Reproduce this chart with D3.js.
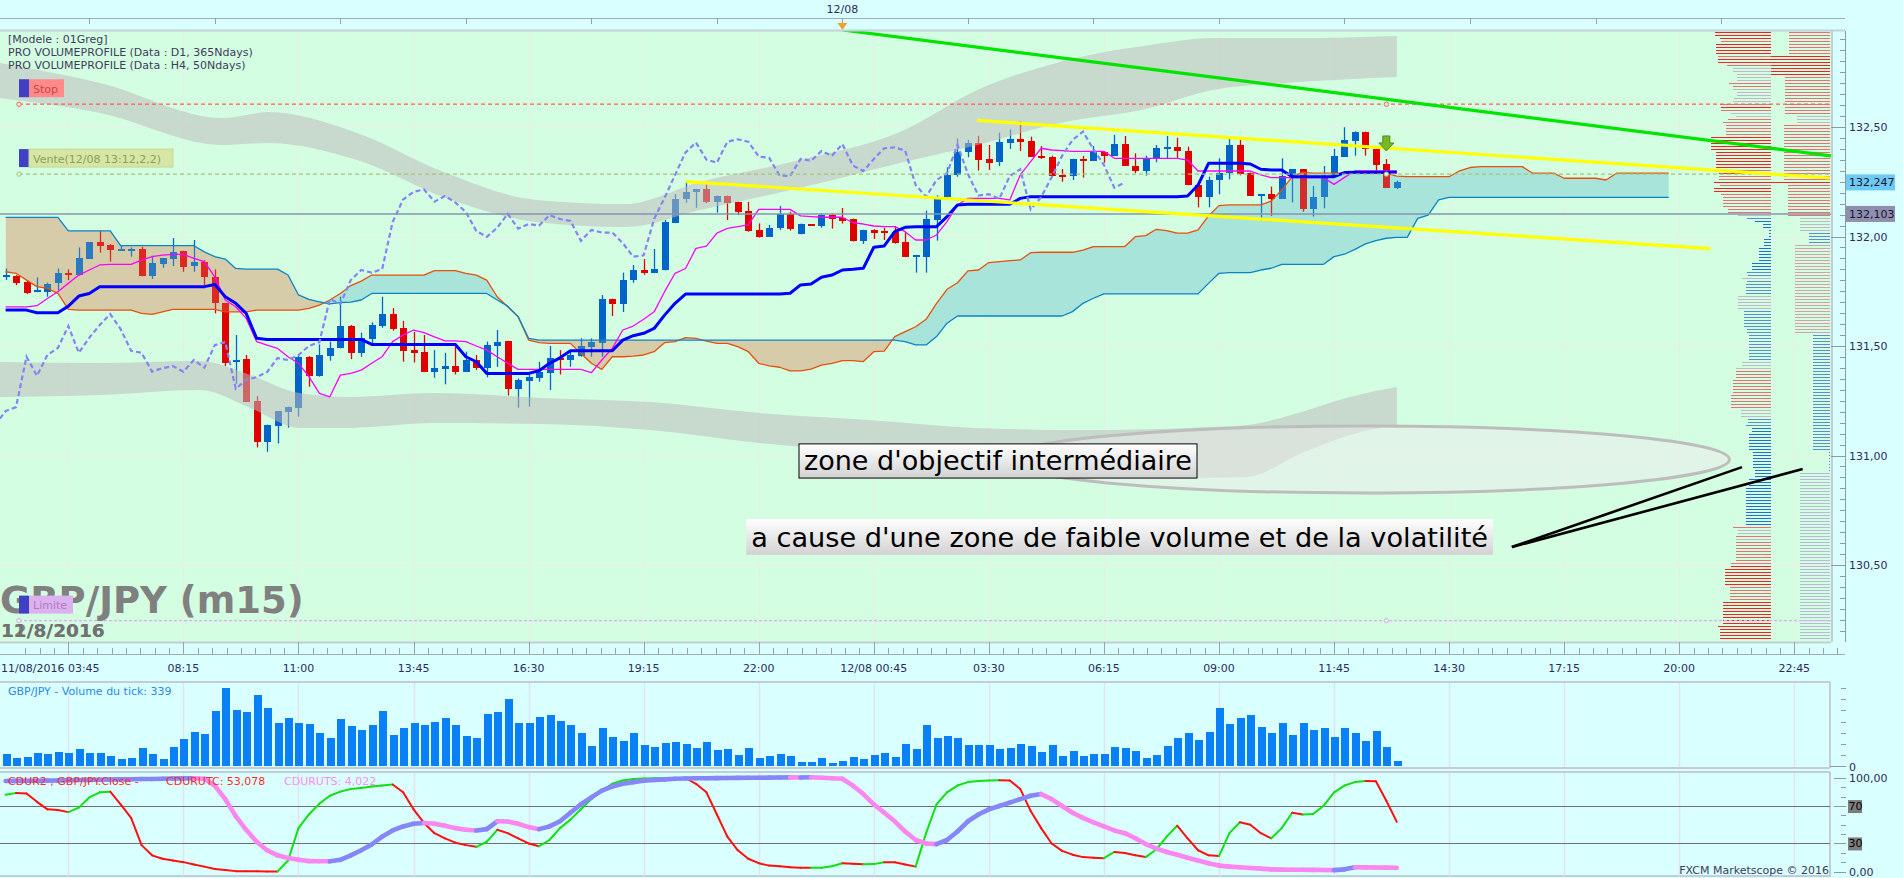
<!DOCTYPE html>
<html>
<head>
<meta charset="utf-8">
<script src="https://cdn.jsdelivr.net/npm/d3@7"></script>
<style>
  body { margin: 0; background: #d9ffff; overflow: hidden; }
  svg text { font-family: "DejaVu Sans", sans-serif; }
</style>
</head>
<body>
<svg id="chart" width="1903" height="878"></svg>
<script>
// GBP/JPY m15, bougies du 11/08 04:00 au 12/08 13:15
const opens = [
  131.816,131.819,131.792,131.749,131.748,131.786,131.830,131.824,131.898,131.975,
  131.961,131.935,131.937,131.941,131.819,131.874,131.898,131.934,131.867,131.883,
  131.813,131.695,131.428,131.439,131.249,131.063,131.136,131.200,131.215,131.450,
  131.363,131.454,131.492,131.593,131.469,131.532,131.593,131.646,131.582,131.481,
  131.472,131.383,131.396,131.408,131.383,131.436,131.401,131.501,131.523,131.305,
  131.341,131.355,131.378,131.445,131.436,131.456,131.497,131.515,131.714,131.692,
  131.801,131.847,131.835,131.847,132.063,132.171,132.204,132.217,132.159,132.185,
  132.158,132.116,132.030,132.000,132.040,132.103,132.012,132.056,132.048,132.098,
  132.086,132.080,131.980,132.030,132.021,132.021,131.975,131.911,131.908,132.075,
  132.179,132.281,132.386,132.429,132.354,132.340,132.429,132.445,132.438,132.368,
  132.363,132.279,132.278,132.349,132.346,132.387,132.369,132.422,132.322,132.301,
  132.354,132.401,132.409,132.390,132.235,132.182,132.258,132.289,132.418,132.289,
  132.188,132.194,132.173,132.276,132.307,132.124,132.182,132.270,132.365,132.438,
  132.477,132.400,132.331,132.223
];
const highs = [
  131.854,131.824,131.801,131.813,131.789,131.854,131.850,131.950,131.975,132.026,
  131.965,131.961,131.950,131.953,131.912,131.902,131.993,131.935,131.984,131.892,
  131.850,131.696,131.550,131.459,131.271,131.141,131.204,131.223,131.459,131.454,
  131.507,131.520,131.725,131.596,131.561,131.608,131.725,131.673,131.615,131.564,
  131.550,131.481,131.469,131.497,131.474,131.459,131.520,131.573,131.524,131.352,
  131.375,131.428,131.500,131.481,131.481,131.535,131.535,131.733,131.716,131.835,
  131.870,131.897,131.943,132.075,132.194,132.250,132.217,132.238,132.187,132.187,
  132.159,132.158,132.060,132.053,132.139,132.113,132.059,132.057,132.106,132.103,
  132.130,132.082,132.031,132.033,132.040,132.048,132.021,131.916,132.118,132.188,
  132.316,132.448,132.441,132.460,132.418,132.474,132.489,132.526,132.456,132.413,
  132.369,132.308,132.355,132.368,132.413,132.389,132.464,132.459,132.380,132.369,
  132.418,132.459,132.451,132.410,132.237,132.273,132.357,132.445,132.441,132.292,
  132.194,132.228,132.357,132.308,132.308,132.231,132.322,132.400,132.499,132.480,
  132.479,132.403,132.354,132.255
];
const lows = [
  131.801,131.778,131.737,131.746,131.725,131.755,131.801,131.821,131.897,131.926,
  131.885,131.934,131.908,131.818,131.806,131.857,131.865,131.839,131.839,131.763,
  131.649,131.408,131.326,131.244,131.037,131.017,131.055,131.127,131.177,131.314,
  131.360,131.433,131.489,131.440,131.451,131.512,131.583,131.570,131.428,131.425,
  131.381,131.355,131.325,131.370,131.381,131.390,131.357,131.405,131.274,131.218,
  131.223,131.337,131.299,131.370,131.405,131.451,131.451,131.451,131.637,131.655,
  131.789,131.825,131.833,131.845,132.061,132.154,132.131,132.152,132.109,132.075,
  132.098,132.022,131.995,131.998,132.030,132.027,132.010,132.048,132.040,132.036,
  132.059,131.977,131.966,131.989,131.984,131.967,131.907,131.835,131.835,131.981,
  132.177,132.273,132.362,132.301,132.304,132.322,132.400,132.390,132.363,132.354,
  132.275,132.250,132.258,132.269,132.345,132.337,132.368,132.322,132.289,132.278,
  132.339,132.357,132.357,132.234,132.133,132.133,132.193,132.261,132.279,132.185,
  132.085,132.094,132.171,132.156,132.113,132.091,132.129,132.269,132.363,132.369,
  132.369,132.296,132.222,132.217
];
const closes = [
  131.819,131.789,131.743,131.752,131.783,131.832,131.825,131.900,131.975,131.956,
  131.938,131.941,131.940,131.819,131.877,131.900,131.927,131.862,131.882,131.813,
  131.695,131.424,131.436,131.246,131.063,131.139,131.203,131.221,131.451,131.364,
  131.459,131.491,131.591,131.469,131.538,131.596,131.646,131.577,131.478,131.469,
  131.383,131.399,131.408,131.383,131.436,131.401,131.504,131.518,131.305,131.345,
  131.358,131.381,131.445,131.436,131.459,131.500,131.518,131.714,131.692,131.801,
  131.847,131.835,131.851,132.066,132.169,132.204,132.215,132.159,132.185,132.155,
  132.112,132.025,131.998,132.040,132.103,132.036,132.057,132.050,132.098,132.080,
  132.071,131.980,132.030,132.018,132.018,131.970,131.908,131.914,132.080,132.177,
  132.281,132.384,132.429,132.351,132.337,132.433,132.444,132.433,132.365,132.359,
  132.278,132.276,132.354,132.346,132.390,132.369,132.422,132.324,132.299,132.354,
  132.403,132.407,132.392,132.235,132.182,132.258,132.289,132.418,132.285,132.187,
  132.193,132.173,132.276,132.307,132.124,132.180,132.270,132.368,132.441,132.479,
  132.398,132.327,132.223,132.247
];
const volumes = [
  840,576,648,912,840,984,912,1200,912,912,
  696,504,576,1272,840,480,1344,1920,2424,2280,
  3936,5640,4008,3864,5088,4152,3072,3432,3072,3000,
  2352,1992,3360,2856,2568,2928,3936,2208,2712,3072,
  2928,3144,3432,2928,2136,1992,3720,3864,4800,3072,
  3072,3504,3648,3216,2928,2352,1416,2712,2064,1776,
  2352,1488,1344,1632,1704,1560,1272,1704,1128,1200,
  768,1272,552,696,840,696,264,264,552,192,
  336,624,480,768,912,624,1560,1200,2928,1992,
  2136,1992,1488,1488,1488,1200,1272,1560,1416,984,
  1488,696,1056,696,840,840,1344,1272,1056,552,
  768,1416,1992,2352,1848,2424,4152,3000,3432,3648,
  2784,2352,3072,2208,3072,2568,2712,2064,2712,2352,
  1776,2496,1344,339
];

// Ichimoku
const tenkan = [
  131.679,131.679,131.679,131.684,131.717,131.748,131.786,131.824,131.847,131.870,
  131.873,131.873,131.873,131.892,131.908,131.915,131.918,131.918,131.900,131.885,
  131.816,131.710,131.679,131.626,131.520,131.504,131.489,131.451,131.421,131.360,
  131.284,131.268,131.367,131.375,131.390,131.421,131.451,131.520,131.550,131.573,
  131.561,131.542,131.523,131.523,131.520,131.500,131.481,131.451,131.421,131.393,
  131.393,131.393,131.393,131.393,131.393,131.393,131.378,131.436,131.489,131.573,
  131.591,131.622,131.656,131.748,131.832,131.854,131.946,131.956,132.015,132.037,
  132.045,132.053,132.124,132.124,132.124,132.124,132.094,132.091,132.088,132.088,
  132.088,132.063,132.057,132.048,132.045,132.045,132.022,131.984,131.984,132.007,
  132.068,132.144,132.174,132.174,132.174,132.174,132.167,132.281,132.342,132.403,
  132.395,132.392,132.389,132.389,132.389,132.389,132.357,132.357,132.357,132.357,
  132.357,132.357,132.357,132.349,132.299,132.299,132.299,132.299,132.299,132.299,
  132.281,132.269,132.269,132.269,132.269,132.269,132.269,132.238,132.270,132.299,
  132.299,132.299,132.299,132.299
];
const kijun = [
  131.664,131.664,131.664,131.652,131.652,131.652,131.682,131.728,131.740,131.771,
  131.771,131.771,131.771,131.771,131.771,131.771,131.771,131.771,131.771,131.771,
  131.781,131.725,131.695,131.649,131.535,131.530,131.530,131.530,131.530,131.530,
  131.530,131.530,131.530,131.530,131.530,131.507,131.507,131.507,131.507,131.507,
  131.507,131.507,131.507,131.507,131.451,131.428,131.375,131.375,131.375,131.375,
  131.375,131.387,131.421,131.446,131.478,131.478,131.478,131.478,131.478,131.527,
  131.547,131.558,131.580,131.641,131.695,131.737,131.737,131.737,131.738,131.738,
  131.738,131.738,131.738,131.738,131.738,131.741,131.779,131.783,131.814,131.824,
  131.847,131.850,131.855,131.951,131.957,132.022,132.042,132.045,132.045,132.045,
  132.091,132.144,132.147,132.147,132.147,132.147,132.147,132.174,132.182,132.182,
  132.182,132.182,132.182,132.182,132.182,132.182,132.182,132.182,132.182,132.182,
  132.182,132.182,132.182,132.185,132.235,132.334,132.334,132.334,132.334,132.331,
  132.307,132.304,132.304,132.273,132.273,132.273,132.273,132.273,132.292,132.293,
  132.293,132.293,132.293,132.293
];
const spanA = [
  131.839,131.832,131.801,131.771,131.763,131.740,131.667,131.664,131.664,131.664,
  131.664,131.664,131.664,131.649,131.644,131.656,131.667,131.667,131.667,131.667,
  131.667,131.656,131.656,131.656,131.664,131.664,131.664,131.664,131.664,131.672,
  131.687,131.710,131.740,131.776,131.796,131.824,131.824,131.824,131.824,131.824,
  131.824,131.844,131.844,131.844,131.832,131.824,131.801,131.725,131.679,131.634,
  131.527,131.515,131.512,131.512,131.512,131.466,131.421,131.393,131.451,131.451,
  131.454,131.459,131.474,131.515,131.520,131.538,131.535,131.522,131.512,131.512,
  131.497,131.474,131.421,131.409,131.403,131.386,131.386,131.394,131.413,131.421,
  131.433,131.433,131.429,131.474,131.477,131.543,131.566,131.588,131.622,131.695,
  131.759,131.789,131.843,131.847,131.881,131.885,131.890,131.893,131.926,131.928,
  131.928,131.928,131.928,131.938,131.954,131.954,131.954,131.954,131.999,132.004,
  132.033,132.027,132.015,132.015,132.030,132.094,132.141,132.144,132.144,132.144,
  132.144,132.162,132.212,132.273,132.293,132.289,132.289,132.289,132.289,132.289,
  132.289,132.289,132.289,132.276,132.273,132.273,132.273,132.273,132.273,132.300,
  132.315,132.319,132.319,132.319,132.319,132.319,132.289,132.289,132.289,132.266,
  132.266,132.266,132.266,132.258,132.289,132.289,132.289,132.289,132.289,132.289
];
const spanB = [
  132.087,132.087,132.087,132.087,132.087,132.087,132.026,132.026,132.026,132.026,
  132.026,131.958,131.958,131.958,131.958,131.958,131.958,131.958,131.958,131.930,
  131.908,131.897,131.854,131.851,131.851,131.851,131.851,131.824,131.733,131.713,
  131.702,131.692,131.698,131.700,131.710,131.740,131.740,131.740,131.740,131.740,
  131.740,131.740,131.740,131.740,131.740,131.740,131.740,131.710,131.682,131.634,
  131.535,131.527,131.527,131.527,131.527,131.527,131.527,131.527,131.527,131.527,
  131.527,131.527,131.527,131.527,131.527,131.527,131.527,131.527,131.527,131.527,
  131.527,131.527,131.527,131.527,131.527,131.527,131.527,131.527,131.527,131.527,
  131.527,131.527,131.527,131.527,131.527,131.527,131.520,131.505,131.505,131.543,
  131.604,131.637,131.637,131.637,131.637,131.637,131.637,131.637,131.637,131.637,
  131.637,131.637,131.657,131.695,131.718,131.738,131.738,131.738,131.738,131.738,
  131.738,131.738,131.738,131.738,131.738,131.786,131.832,131.835,131.835,131.835,
  131.847,131.855,131.873,131.873,131.873,131.873,131.873,131.908,131.919,131.941,
  131.966,131.981,131.992,131.996,131.996,132.083,132.098,132.167,132.179,132.179,
  132.179,132.179,132.179,132.179,132.179,132.179,132.179,132.179,132.179,132.179,
  132.179,132.179,132.179,132.179,132.179,132.179,132.179,132.179,132.179,132.179
];

// Bandes grises (indice de bougie, haut, bas)
const bandUpBars = [-0.54,9.02,20.78,25.08,33.6,42.1,50.7,59.2,66.4,75.9,85.5,92.9,100.8,109.4,115.4,123.7,133.0];
const bandUpTop  = [132.792,132.701,132.541,132.568,132.473,132.290,132.167,132.148,132.249,132.349,132.477,132.669,132.797,132.874,132.906,132.906,132.916];
const bandUpBot  = [132.632,132.564,132.418,132.427,132.349,132.176,132.066,132.043,132.121,132.221,132.336,132.418,132.518,132.587,132.669,132.705,132.728];
const bandLoBars = [-0.54,9.02,18.6,23.4,28.1,32.9,40.9,51.3,61.6,72.0,82.4,92.8,103.1,113.2,118.7,123.9,128.5,133.0];
const bandLoTop  = [131.427,131.422,131.432,131.368,131.285,131.267,131.285,131.263,131.244,131.194,131.162,131.126,131.116,131.126,131.139,131.199,131.267,131.313];
const bandLoBot  = [131.267,131.276,131.299,131.217,131.126,131.126,131.148,131.144,131.116,131.057,131.016,130.970,130.934,130.897,130.902,131.011,131.094,131.139];

// Oscillateur CDUR2
const cdurUTC = [
  82.1,83.9,83.5,74.5,66.5,65.7,63.5,68.3,79.2,84.7,
  85.4,71.9,57.3,28.2,17.3,13.6,11.8,10.0,7.4,5.2,
  2.7,1.6,0.4,0.3,0.2,0.1,0.1,11.8,46.4,61.0,
  72.6,81.0,85.4,88.3,89.4,90.9,91.9,93.0,84.7,66.5,
  51.9,41.0,35.5,30.8,28.2,26.4,31.8,44.6,41.0,35.5,
  30.0,27.1,33.7,46.4,55.5,66.5,77.4,86.5,93.8,97.4,
  99.0,99.5,99.8,100.0,100.0,100.0,93.8,84.7,61.0,37.3,
  22.7,13.6,8.9,6.3,5.6,4.5,4.1,4.0,4.1,5.6,
  8.9,8.2,7.8,7.9,10.0,9.8,7.4,5.2,41.0,71.9,
  84.7,91.9,95.6,96.7,97.4,97.5,97.4,88.3,64.6,46.4,
  30.0,22.0,18.0,15.4,14.7,14.3,20.9,19.8,17.3,15.4,
  23.5,37.3,49.0,35.5,22.7,17.3,16.5,41.0,52.6,50.1,
  41.0,35.5,46.4,62.8,61.0,61.5,70.1,84.7,91.9,95.6,
  96.7,96.6,75.6,53.078
];
const cdurUTS = [
  96.8,96.9,97.0,97.1,97.2,97.4,97.6,97.8,98.0,98.2,
  98.4,98.5,98.7,98.9,99.0,99.2,99.4,99.6,99.8,99.2,
  91.9,77.4,59.2,44.6,31.8,22.7,17.3,14.4,12.5,11.1,
  11.0,10.9,12.5,17.3,22.7,28.9,37.3,43.9,48.2,51.1,
  51.9,51.1,49.0,46.4,44.6,43.9,45.3,53.7,53.5,51.1,
  47.5,45.3,48.2,53.7,62.8,71.9,79.2,86.5,90.9,93.8,
  95.6,97.0,97.8,98.5,99.2,99.5,99.7,99.8,99.9,100.0,
  100.1,100.2,100.3,100.4,100.5,100.7,100.6,100.8,100.3,99.8,
  99.2,91.9,82.8,71.9,62.8,53.7,42.8,33.7,30.0,29.3,
  33.7,42.8,53.7,61.0,66.5,70.1,73.7,77.4,81.0,82.8,
  77.4,70.1,62.8,57.3,52.6,48.2,43.9,41.0,35.5,29.3,
  24.6,20.9,18.0,14.7,11.8,8.9,6.3,5.2,4.5,3.8,
  3.1,2.3,2.0,1.9,1.8,1.7,1.6,1.5,2.3,4.5,
  4.4,4.3,4.1,4.022
];

// Profils de volume: [volume, nombre de niveaux, teinte]
const profileD1Runs = [
  [168,2,"R"],[153,1,"R"],[150,1,"r"],[165,4,"R"],[158,1,"r"],[160,1,"R"],[158,1,"R"],[133,1,"r"],
  [115,1,"g"],[113,1,"g"],[103,2,"g"],[101,1,"g"],[127,1,"r"],[115,1,"r"],[115,1,"g"],[103,2,"g"],
  [110,1,"g"],[115,1,"g"],[153,1,"r"],[150,1,"R"],[150,1,"r"],[121,1,"g"],[105,1,"g"],[128,1,"r"],
  [143,1,"r"],[135,4,"r"],[180,5,"R"],[165,6,"R"],[158,1,"r"],[155,1,"R"],[155,2,"r"],[171,1,"R"],
  [153,1,"r"],[171,2,"R"],[150,1,"r"],[143,4,"r"],[130,1,"r"],[128,1,"r"],[98,1,"g"],[71,1,"b"],
  [48,1,"B"],[23,2,"B"],[5,3,"B"],[21,3,"B"],[35,5,"B"],[56,3,"B"],[73,1,"b"],[68,1,"b"],
  [86,1,"g"],[73,1,"b"],[75,4,"b"],[98,5,"g"],[80,6,"b"],[73,2,"b"],[66,9,"b"],[88,2,"g"],
  [105,1,"g"],[105,3,"r"],[113,5,"r"],[120,5,"r"],[90,3,"g"],[70,2,"b"],[75,1,"b"],[58,2,"B"],
  [66,6,"B"],[53,6,"B"],[48,3,"B"],[66,3,"B"],[75,13,"B"],[113,1,"r"],[98,2,"g"],[105,1,"r"],
  [105,1,"g"],[105,7,"r"],[120,1,"r"],[120,1,"R"],[138,6,"R"],[123,5,"r"],[143,8,"R"],[158,1,"R"],
  [153,4,"R"]
];
const profileH4Runs = [
  [123,8,"r"],[177,7,"R"],[135,13,"r"],[100,3,"g"],[138,19,"r"],[177,1,"R"],[126,11,"r"],
  [90,5,"g"],[63,4,"b"],[105,30,"p"],[51,39,"b"],[2,7,"b"],[90,56,"l"]
];
const profileTop = 132.932;
const profileStep = 0.0137;

// Niveaux et tracés
const stopPrice = 132.604, ventePrice = 132.285, refPrice = 132.103, limitPrice = 130.246;
const entryBar = 132;
const greenLine = [[80, 132.943], [174.5, 132.368]];
const yellowUp = [[92.9, 132.530], [174.4, 132.267]];
const yellowLo = [[65.05, 132.251], [163.0, 131.945]];
const blackLines = [[[144.0, 130.582], [166.0, 130.947]], [[144.0, 130.582], [171.8, 130.938]]];
const targetZone = { b0: 95.4, b1: 164.8, p0: 131.135, p1: 130.829 };
const noteBoxes = [
  { text: "zone d'objectif intermédiaire", b0: 75.85, b1: 113.9, p0: 131.053, p1: 130.897, border: true },
  { text: "a cause d'une zone de faible volume et de la volatilité", b0: 70.8, b1: 142.2, p0: 130.710, p1: 130.546, border: false }
];

// Axes
const priceTicks = [130.5, 131.0, 131.5, 132.0, 132.5];
const timeTickBars = [6,17,28,39,50,61,72,83,94,105,116,127,138,149,160,171];
const timeLabels = ["", "08:15","11:00","13:45","16:30","19:15","22:00","12/08 00:45","03:30","06:15","09:00","11:45","14:30","17:15","20:00","22:45"];
const firstTimeLabel = "11/08/2016 03:45";
const topTickBars = [8,20,32,44,56,68,80,92,104,116,128,140,152,164];
const dayMarkBar = 80, dayMarkLabel = "12/08";

// ---- mise en page
const W = 1903, H = 878;
const PLOT_R = 1831, AXIS_X = 1845;
const MAIN_T = 31, MAIN_B = 642;
const VOL_T = 682, VOL_B = 768, OSC_T = 772, OSC_B = 877;

const x = d3.scaleLinear().domain([0, 133]).range([5.6, 1396.8]);
const y = d3.scaleLinear().domain([130.5, 132.5]).range([565, 127]);
const yVol = d3.scaleLinear().domain([0, 6048]).range([766, 682]);
const yOsc = d3.scaleLinear().domain([0, 100]).range([871.5, 778]);
const wProfile = d3.scaleLinear().domain([0, 300]).range([0, 100]);

const fmt2 = d => d.toFixed(2).replace(".", ",");
const fmt3 = d => d.toFixed(3).replace(".", ",");
const UP = "#0064c8", DOWN = "#e00000";
const profileColors = { R: "#ff1c1c", r: "#e87070", g: "#c0b8c6", b: "#5a8ed2", B: "#1f6fd6", p: "#d2a2ac", l: "#b8b8da" };

const svg = d3.select("#chart");
const defs = svg.append("defs");

svg.append("rect").attr("width", W).attr("height", H).attr("fill", "#d9ffff");
svg.append("rect").attr("x", 0).attr("y", MAIN_T).attr("width", PLOT_R).attr("height", MAIN_B - MAIN_T).attr("fill", "#d4fee2");

defs.append("clipPath").attr("id", "clipMain").append("rect")
  .attr("x", 0).attr("y", MAIN_T).attr("width", PLOT_R).attr("height", MAIN_B - MAIN_T);
defs.append("clipPath").attr("id", "clipOsc").append("rect")
  .attr("x", 0).attr("y", OSC_T).attr("width", 1830).attr("height", OSC_B - OSC_T);

const main = svg.append("g").attr("clip-path", "url(#clipMain)");

// grille
main.append("g").selectAll("line").data(timeTickBars).join("line")
  .attr("x1", b => Math.round(x(b)) + 0.5).attr("x2", b => Math.round(x(b)) + 0.5)
  .attr("y1", MAIN_T).attr("y2", MAIN_B).attr("stroke", "#e4f2e6").attr("stroke-width", 1.5);
main.append("g").selectAll("line").data(priceTicks).join("line")
  .attr("x1", 0).attr("x2", PLOT_R).attr("y1", p => Math.round(y(p))).attr("y2", p => Math.round(y(p)))
  .attr("stroke", "#e4f2e6").attr("stroke-width", 1.5);

// nuage Ichimoku
const cloudIdx = d3.range(spanA.length);
const between = d3.area().x(i => x(i)).y0(i => y(spanA[i])).y1(i => y(spanB[i]));
defs.append("clipPath").attr("id", "clipBelowA").append("path")
  .attr("d", d3.area().x(i => x(i)).y0(i => y(spanA[i])).y1(MAIN_B)(cloudIdx));
defs.append("clipPath").attr("id", "clipAboveA").append("path")
  .attr("d", d3.area().x(i => x(i)).y0(MAIN_T).y1(i => y(spanA[i]))(cloudIdx));

function drawCloud(opacity) {
  const g = main.append("g").attr("opacity", opacity);
  g.append("path").attr("d", between(cloudIdx)).attr("fill", "#a8e4da").attr("clip-path", "url(#clipBelowA)");
  g.append("path").attr("d", between(cloudIdx)).attr("fill", "#d6ccaa").attr("clip-path", "url(#clipAboveA)");
}
drawCloud(1);

// bougies
const bars = d3.range(opens.length);
const candleColor = i => (closes[i] >= opens[i] ? UP : DOWN);
const candles = main.append("g").selectAll("g").data(bars).join("g");
candles.append("line")
  .attr("x1", i => Math.round(x(i)) + 0.5).attr("x2", i => Math.round(x(i)) + 0.5)
  .attr("y1", i => y(highs[i])).attr("y2", i => y(lows[i]))
  .attr("stroke", candleColor).attr("stroke-width", 1.3);
candles.append("rect")
  .attr("x", i => Math.round(x(i)) - 3)
  .attr("width", 7)
  .attr("y", i => {
    const top = y(Math.max(opens[i], closes[i]));
    const h = Math.abs(y(opens[i]) - y(closes[i]));
    return h < 2 ? (top + h / 2 - 1) : top;
  })
  .attr("height", i => Math.max(2, Math.abs(y(opens[i]) - y(closes[i]))))
  .attr("fill", candleColor)
  .attr("shape-rendering", "crispEdges");

drawCloud(0.2);

// bandes grises
function bandPath(bs, top, bot) {
  return d3.area().curve(d3.curveMonotoneX)
    .x((d, k) => x(bs[k])).y0((d, k) => y(top[k])).y1((d, k) => y(bot[k]))(bs);
}
main.append("path").attr("d", bandPath(bandUpBars, bandUpTop, bandUpBot)).attr("fill", "#bcbcbc").attr("opacity", 0.55);
main.append("path").attr("d", bandPath(bandLoBars, bandLoTop, bandLoBot)).attr("fill", "#bcbcbc").attr("opacity", 0.55);

// lignes Ichimoku
function seriesLine(values, color, width, dash) {
  const path = main.append("path")
    .attr("d", d3.line().x((d, i) => x(i)).y(d => y(d))(values))
    .attr("fill", "none").attr("stroke", color).attr("stroke-width", width)
    .attr("stroke-linejoin", "round");
  if (dash) path.attr("stroke-dasharray", dash);
}
seriesLine(spanA, "#e6500c", 1.3);
seriesLine(spanB, "#0a84c4", 1.3);
seriesLine(tenkan, "#ff00ff", 1.3);
seriesLine(kijun, "#0000ff", 3);

const chikouIdx = d3.range(-1, closes.length - 26);
main.append("path")
  .attr("d", d3.line().x(i => x(i)).y(i => y(closes[i + 26]))(chikouIdx))
  .attr("fill", "none").attr("stroke", "#8484f4").attr("stroke-width", 2.2)
  .attr("stroke-dasharray", "5,3");

// profils de volume
function expandRuns(runs) {
  const out = [];
  runs.forEach(([v, n, c]) => { for (let k = 0; k < n; k++) out.push({ v, c }); });
  return out;
}
function drawProfile(runs, right) {
  main.append("g").selectAll("rect").data(expandRuns(runs)).join("rect")
    .attr("x", d => right - wProfile(d.v))
    .attr("width", d => wProfile(d.v))
    .attr("y", (d, k) => y(profileTop - k * profileStep) - 0.7)
    .attr("height", 1.4)
    .attr("fill", d => profileColors[d.c])
    .attr("shape-rendering", "crispEdges");
}
drawProfile(profileD1Runs, 1771);
drawProfile(profileH4Runs, 1830);

// niveaux horizontaux
function levelLine(price, color, dash, width) {
  const l = main.append("line").attr("x1", 19).attr("x2", PLOT_R)
    .attr("y1", y(price)).attr("y2", y(price))
    .attr("stroke", color).attr("stroke-width", width || 1.3);
  if (dash) l.attr("stroke-dasharray", dash);
  [19, x(entryBar)].forEach(cx => {
    main.append("circle").attr("cx", cx).attr("cy", y(price)).attr("r", 2.2)
      .attr("fill", "#d4fee2").attr("stroke", color).attr("stroke-width", 1);
  });
}
main.append("line").attr("x1", 0).attr("x2", PLOT_R).attr("y1", y(refPrice)).attr("y2", y(refPrice))
  .attr("stroke", "#8494b0").attr("stroke-width", 1.4);
levelLine(stopPrice, "#ff5a5a", "4,3");
levelLine(ventePrice, "#a4c47a", "4,3");
levelLine(limitPrice, "#e2a8f2", "3,2");

// droites de tendance
function trend(seg, color, width) {
  main.append("line")
    .attr("x1", x(seg[0][0])).attr("y1", y(seg[0][1]))
    .attr("x2", x(seg[1][0])).attr("y2", y(seg[1][1]))
    .attr("stroke", color).attr("stroke-width", width);
}
trend(yellowUp, "#ffff00", 3.2);
trend(yellowLo, "#ffff00", 3.2);
trend(greenLine, "#00e400", 3.2);

// flèche de vente
const ax = x(entryBar), ay = y(highs[entryBar]) - 10;
main.append("path")
  .attr("d", `M${ax - 3.5},${ay - 13} h7 v7 h4 l-7.5,8 l-7.5,-8 h4 z`)
  .attr("fill", "#78b828").attr("stroke", "#4c8a10").attr("stroke-width", 1);

// zone d'objectif
main.append("ellipse")
  .attr("cx", (x(targetZone.b0) + x(targetZone.b1)) / 2)
  .attr("cy", (y(targetZone.p0) + y(targetZone.p1)) / 2)
  .attr("rx", (x(targetZone.b1) - x(targetZone.b0)) / 2)
  .attr("ry", (y(targetZone.p1) - y(targetZone.p0)) / 2)
  .attr("fill", "#ececec").attr("fill-opacity", 0.5)
  .attr("stroke", "#bdbdbd").attr("stroke-width", 3);

blackLines.forEach(seg => trend(seg, "#000", 2.6));

const grad = defs.append("linearGradient").attr("id", "noteGrad").attr("x1", 0).attr("y1", 0).attr("x2", 0).attr("y2", 1);
grad.append("stop").attr("offset", "0%").attr("stop-color", "#ffffff");
grad.append("stop").attr("offset", "100%").attr("stop-color", "#d2d2d2");
noteBoxes.forEach(n => {
  const bx = x(n.b0), by = y(n.p0), bw = x(n.b1) - x(n.b0), bh = y(n.p1) - y(n.p0);
  main.append("rect").attr("x", bx).attr("y", by).attr("width", bw).attr("height", bh)
    .attr("fill", "url(#noteGrad)")
    .attr("stroke", n.border ? "#000" : "none").attr("stroke-width", 1);
  main.append("text").attr("x", bx + 5).attr("y", by + bh - 8)
    .attr("font-size", 27).attr("fill", "#000")
    .attr("textLength", bw - 10).attr("lengthAdjust", "spacingAndGlyphs")
    .text(n.text);
});

// libellés du graphique
const legend = ["[Modele : 01Greg]", "PRO VOLUMEPROFILE (Data : D1, 365Ndays)", "PRO VOLUMEPROFILE (Data : H4, 50Ndays)"];
main.append("g").selectAll("text").data(legend).join("text")
  .attr("x", 8).attr("y", (d, i) => 43 + i * 13)
  .attr("font-size", 11).attr("fill", "#3c3c5c").text(d => d);

main.append("text").attr("x", 0).attr("y", 613)
  .attr("font-size", 37).attr("font-weight", "bold").attr("fill", "#808080")
  .text("GBP/JPY (m15)");
["11/8/2016", "12/8/2016"].forEach(t => {
  main.append("text").attr("x", 1).attr("y", 637)
    .attr("font-size", 18.5).attr("font-weight", "bold").attr("fill", "#6e6e6e")
    .attr("opacity", 0.85).text(t);
});

function orderTag(price, label, fill, textFill, width, stroke) {
  const ty = y(price) - 25;
  main.append("rect").attr("x", 19).attr("y", ty).attr("width", 10).attr("height", 18).attr("fill", "#4040c4");
  main.append("rect").attr("x", 29).attr("y", ty).attr("width", width).attr("height", 18)
    .attr("fill", fill).attr("stroke", stroke || "none");
  main.append("text").attr("x", 33).attr("y", ty + 13.5)
    .attr("font-size", 11).attr("fill", textFill).text(label);
}
orderTag(stopPrice, "Stop", "#ff8a8a", "#c44848", 35);
orderTag(ventePrice, "Vente(12/08 13:12,2,2)", "#d6e6a4", "#8ca05c", 144, "#c6d896");
orderTag(limitPrice, "Limite", "#dcb2ee", "#b07ac8", 44);

// bordures et axe des prix
svg.append("line").attr("x1", 0).attr("x2", AXIS_X).attr("y1", 18.5).attr("y2", 18.5).attr("stroke", "#a4acb6");
svg.append("g").selectAll("line").data(topTickBars).join("line")
  .attr("x1", b => Math.round(x(b)) + 0.5).attr("x2", b => Math.round(x(b)) + 0.5)
  .attr("y1", 18).attr("y2", 24).attr("stroke", "#98a2ac");
svg.append("text").attr("x", x(dayMarkBar)).attr("y", 13).attr("text-anchor", "middle")
  .attr("font-size", 11).attr("fill", "#2c2c5a").text(dayMarkLabel);
svg.append("path")
  .attr("d", `M${x(dayMarkBar) - 5},${23} h10 l-5,7 z`).attr("fill", "#f2a02c");

svg.append("line").attr("x1", 0).attr("x2", AXIS_X).attr("y1", MAIN_T - 0.5).attr("y2", MAIN_T - 0.5)
  .attr("stroke", "#c4d0d8").attr("stroke-width", 2);
svg.append("line").attr("x1", PLOT_R + 1).attr("x2", PLOT_R + 1).attr("y1", MAIN_T).attr("y2", MAIN_B)
  .attr("stroke", "#c4ccd6").attr("stroke-width", 2);
svg.append("line").attr("x1", 0).attr("x2", PLOT_R).attr("y1", MAIN_B + 0.5).attr("y2", MAIN_B + 0.5)
  .attr("stroke", "#c4ccd6").attr("stroke-width", 2);
svg.append("line").attr("x1", AXIS_X + 0.5).attr("x2", AXIS_X + 0.5).attr("y1", MAIN_T).attr("y2", MAIN_B)
  .attr("stroke", "#8c9aa8");

const minorPrices = d3.range(130.2, 132.95, 0.05);
svg.append("g").selectAll("line").data(minorPrices).join("line")
  .attr("x1", AXIS_X - 5).attr("x2", AXIS_X).attr("y1", p => Math.round(y(p)) + 0.5).attr("y2", p => Math.round(y(p)) + 0.5)
  .attr("stroke", "#8c9aa8");
svg.append("g").selectAll("line").data(priceTicks).join("line")
  .attr("x1", PLOT_R).attr("x2", AXIS_X).attr("y1", p => Math.round(y(p)) + 0.5).attr("y2", p => Math.round(y(p)) + 0.5)
  .attr("stroke", "#8c9aa8");
svg.append("g").selectAll("text").data(priceTicks).join("text")
  .attr("x", AXIS_X + 4).attr("y", p => y(p) + 4)
  .attr("font-size", 11).attr("fill", "#2c2c5a").text(fmt2);

function priceTag(price, fill) {
  svg.append("rect").attr("x", AXIS_X + 1).attr("y", y(price) - 8).attr("width", 49).attr("height", 16).attr("fill", fill);
  svg.append("text").attr("x", AXIS_X + 4).attr("y", y(price) + 4)
    .attr("font-size", 11).attr("fill", "#16162e").text(fmt3(price));
}
priceTag(closes[closes.length - 1], "#6ccaf4");
priceTag(refPrice, "#8e8eae");

// axe du temps
svg.append("line").attr("x1", 0).attr("x2", AXIS_X).attr("y1", 654.5).attr("y2", 654.5).attr("stroke", "#a4acb6");
const minorTimes = [];
timeTickBars.forEach(b => { for (let k = 1; k < 8; k++) minorTimes.push(b + k * 11 / 8); });
minorTimes.unshift(6 - 11 / 8 * 3, 6 - 11 / 8 * 2, 6 - 11 / 8);
svg.append("g").selectAll("line").data(minorTimes.filter(b => x(b) < AXIS_X && x(b) > 0)).join("line")
  .attr("x1", b => Math.round(x(b)) + 0.5).attr("x2", b => Math.round(x(b)) + 0.5)
  .attr("y1", 648).attr("y2", 654).attr("stroke", "#98a2ac");
svg.append("g").selectAll("line").data(timeTickBars).join("line")
  .attr("x1", b => Math.round(x(b)) + 0.5).attr("x2", b => Math.round(x(b)) + 0.5)
  .attr("y1", MAIN_B).attr("y2", 654).attr("stroke", "#98a2ac");
svg.append("g").selectAll("text").data(timeTickBars).join("text")
  .attr("x", b => x(b)).attr("y", 672).attr("text-anchor", "middle")
  .attr("font-size", 11).attr("fill", "#2c2c5a").text((b, i) => timeLabels[i]);
svg.append("text").attr("x", 1).attr("y", 672).attr("font-size", 11).attr("fill", "#2c2c5a").text(firstTimeLabel);

// panneau volume
[VOL_T, VOL_B, OSC_T, OSC_B - 1].forEach(v => {
  svg.append("line").attr("x1", 0).attr("x2", 1830).attr("y1", v).attr("y2", v).attr("stroke", "#c4ccd6").attr("stroke-width", 2);
});
[[VOL_T, VOL_B], [OSC_T, OSC_B]].forEach(([t, b]) => {
  svg.append("line").attr("x1", 1830).attr("x2", 1830).attr("y1", t).attr("y2", b).attr("stroke", "#c4ccd6").attr("stroke-width", 2);
  svg.append("g").selectAll("line").data(timeTickBars).join("line")
    .attr("x1", d => Math.round(x(d)) + 0.5).attr("x2", d => Math.round(x(d)) + 0.5)
    .attr("y1", t + 1).attr("y2", b - 1).attr("stroke", "#e2e2ea").attr("stroke-width", 1.5);
});

svg.append("text").attr("x", 8).attr("y", 695).attr("font-size", 11).attr("fill", "#2a8ae8")
  .text("GBP/JPY - Volume du tick: " + volumes[volumes.length - 1]);
svg.append("g").selectAll("rect").data(bars).join("rect")
  .attr("x", i => Math.round(x(i)) - 3.5).attr("width", 8)
  .attr("y", i => yVol(volumes[i])).attr("height", i => yVol(0) - yVol(volumes[i]))
  .attr("fill", "#0a80f6").attr("shape-rendering", "crispEdges");
svg.append("g").selectAll("line").data(d3.range(0, 6000, 800)).join("line")
  .attr("x1", v => (v === 0 ? 1830 : 1841)).attr("x2", 1846)
  .attr("y1", v => Math.round(yVol(v)) + 0.5).attr("y2", v => Math.round(yVol(v)) + 0.5)
  .attr("stroke", "#8c9aa8");
svg.append("text").attr("x", 1849).attr("y", yVol(0) + 5).attr("font-size", 11).attr("fill", "#2c2c5a").text("0");

// panneau oscillateur
const osc = svg.append("g").attr("clip-path", "url(#clipOsc)");
[70, 30].forEach(v => {
  osc.append("line").attr("x1", 0).attr("x2", 1830).attr("y1", Math.round(yOsc(v)) + 0.5).attr("y2", Math.round(yOsc(v)) + 0.5)
    .attr("stroke", "#707070");
});
const oscLegend = svg.append("text").attr("x", 8).attr("y", 785).attr("font-size", 11);
oscLegend.append("tspan").attr("fill", "#ff2a2a").text("CDUR2 , GBP/JPY.Close -");
svg.append("text").attr("x", 166).attr("y", 785).attr("font-size", 11).attr("fill", "#ff2a2a")
  .text("CDURUTC: " + fmt3(cdurUTC[cdurUTC.length - 1]));
svg.append("text").attr("x", 284).attr("y", 785).attr("font-size", 11).attr("fill", "#ff8cf4")
  .text("CDURUTS: " + fmt3(cdurUTS[cdurUTS.length - 1]));

function oscSegments(values, upColor, downColor) {
  const segs = [];
  let last = upColor;
  for (let i = 1; i < values.length; i++) {
    const c = values[i] > values[i - 1] ? upColor : values[i] < values[i - 1] ? downColor : last;
    last = c;
    segs.push({ i, c });
  }
  return segs;
}
function drawOsc(values, upColor, downColor, width) {
  osc.append("g").selectAll("line").data(oscSegments(values, upColor, downColor)).join("line")
    .attr("x1", d => x(d.i - 1)).attr("y1", d => yOsc(values[d.i - 1]))
    .attr("x2", d => x(d.i)).attr("y2", d => yOsc(values[d.i]))
    .attr("stroke", d => d.c).attr("stroke-width", width).attr("stroke-linecap", "round");
}
drawOsc(cdurUTC, "#12e012", "#ff1010", 2);
drawOsc(cdurUTS, "#8686f8", "#fa86f0", 4.6);

svg.append("g").selectAll("line").data(d3.range(0, 101, 10)).join("line")
  .attr("x1", v => (v === 0 || v === 100 || v === 70 || v === 30 ? 1834 : 1841)).attr("x2", 1846)
  .attr("y1", v => Math.round(yOsc(v)) + 0.5).attr("y2", v => Math.round(yOsc(v)) + 0.5)
  .attr("stroke", "#8c9aa8");
svg.append("text").attr("x", 1849).attr("y", yOsc(100) + 4).attr("font-size", 11).attr("fill", "#2c2c5a").text("100,00");
svg.append("text").attr("x", 1849).attr("y", yOsc(0) + 4).attr("font-size", 11).attr("fill", "#2c2c5a").text("0,00");
[70, 30].forEach(v => {
  svg.append("rect").attr("x", 1848).attr("y", yOsc(v) - 6).attr("width", 14).attr("height", 13).attr("fill", "#7c7c7c");
  svg.append("text").attr("x", 1848.5).attr("y", yOsc(v) + 4).attr("font-size", 11).attr("fill", "#000").text(v);
});

svg.append("text").attr("x", 1829).attr("y", 874).attr("text-anchor", "end")
  .attr("font-size", 11).attr("fill", "#3c3c5c").text("FXCM Marketscope © 2016");
</script>
</body>
</html>
